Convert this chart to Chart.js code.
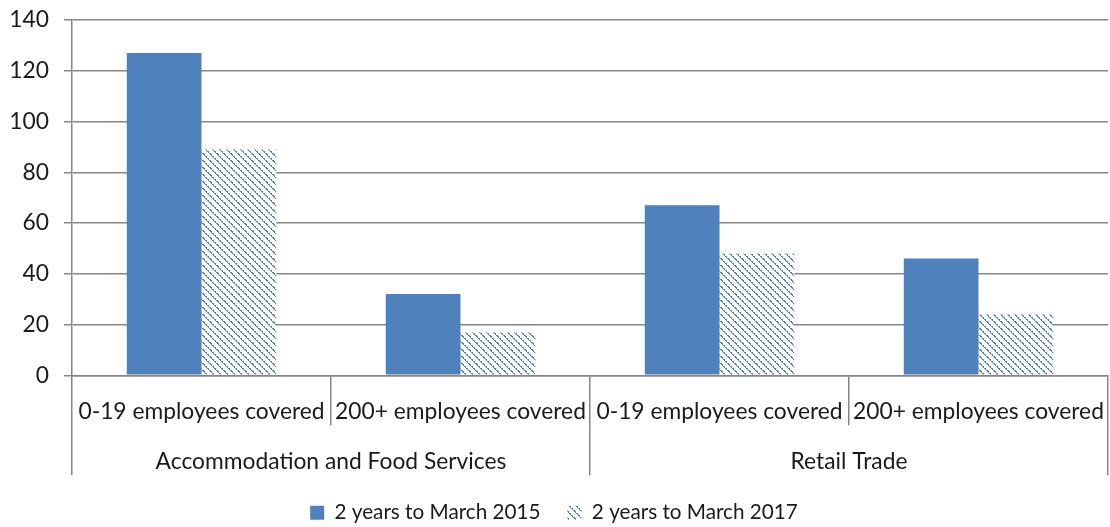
<!DOCTYPE html>
<html><head><meta charset="utf-8">
<script src="https://cdn.jsdelivr.net/npm/chart.js@4.4.1/dist/chart.umd.min.js"></script>
<style>html,body{margin:0;padding:0;background:#fff}</style>
</head><body>
<canvas id="c" width="1110" height="527"></canvas>
<script>
const categories = ["0-19 employees covered","200+ employees covered","0-19 employees covered","200+ employees covered"];
const groups = ["Accommodation and Food Services","Retail Trade"];
const series2015 = [127, 32, 67, 46];
const series2017 = [89, 17, 48, 24];
const seriesNames = ["2 years to March 2015","2 years to March 2017"];
const yMin = 0, yMax = 140, yStep = 20;

const BLUE = '#4F81BD';
const GRID = '#868686';
const FONT = 'Lato';
const FS = 22.8;
const LFS = 20.7;

function makeHatch() {
  const s = 7;
  const p = document.createElement('canvas');
  p.width = s; p.height = s;
  const g = p.getContext('2d');
  g.fillStyle = '#fff';
  g.fillRect(0, 0, s, s);
  g.fillStyle = BLUE;
  for (let i = 0; i < s; i++) {
    g.fillRect(i, i, 1, 1);
    if (i % 2 === 0) g.fillRect((i + 1) % s, i, 1, 1);
  }
  return g.createPattern(p, 'repeat');
}
const ctx = document.getElementById('c').getContext('2d');
const hatch = makeHatch();

new Chart(ctx, {
  type: 'bar',
  data: {
    labels: categories,
    datasets: [
      { label: seriesNames[0], data: series2015, backgroundColor: BLUE, borderWidth: 0,
        categoryPercentage: 0.577, barPercentage: 1.0 },
      { label: seriesNames[1], data: series2017, backgroundColor: hatch, borderWidth: 0,
        categoryPercentage: 0.577, barPercentage: 1.0 }
    ]
  },
  options: {
    responsive: false,
    animation: false,
    devicePixelRatio: 1,
    layout: { padding: { top: 0, right: 2, left: 0, bottom: -6 } },
    plugins: {
      legend: {
        position: 'bottom',
        labels: {
          font: { family: FONT, size: LFS },
          color: '#1a1a1a',
          boxWidth: 14, boxHeight: 14,
          padding: 27
        }
      },
      tooltip: { enabled: false }
    },
    scales: {
      y: {
        min: yMin, max: yMax,
        ticks: { stepSize: yStep, font: { family: FONT, size: FS }, color: '#1a1a1a', padding: 15 },
        grid: { color: GRID, lineWidth: 1.5, tickLength: 8 },
        border: { color: GRID, width: 1.5 },
        afterFit: (s) => { s.width = 72; s.paddingTop = 20; s.paddingBottom = 10; }
      },
      x: {
        ticks: { font: { family: FONT, size: FS }, color: '#1a1a1a', padding: -27, maxRotation: 0, autoSkip: false },
        grid: { display: true, drawOnChartArea: false, offset: true, tickLength: 50, color: GRID, lineWidth: 1.5 },
        border: { display: true, color: GRID, width: 1.5 },
        afterFit: (s) => { s.height = 50; }
      },
      x2: {
        type: 'category',
        labels: groups,
        position: 'bottom',
        ticks: { font: { family: FONT, size: FS }, color: '#1a1a1a', padding: -27, maxRotation: 0, autoSkip: false },
        grid: { display: true, drawOnChartArea: false, offset: true, tickLength: 50, color: GRID, lineWidth: 1.5 },
        border: { display: false },
        afterFit: (s) => { s.height = 50; }
      }
    }
  }
});
</script>
</body></html>
